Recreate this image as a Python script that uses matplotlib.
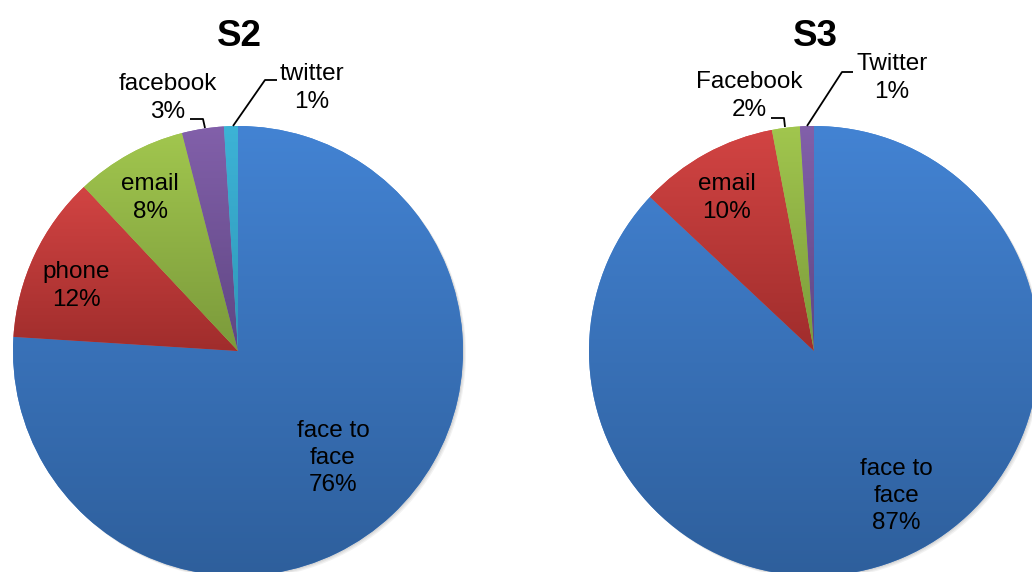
import textwrap
import numpy as np
import matplotlib
matplotlib.use("Agg")
import matplotlib.pyplot as plt
from matplotlib.patches import Circle
from matplotlib.colors import LinearSegmentedColormap

plt.rcParams['font.family'] = ['Liberation Sans', 'DejaVu Sans']

W, H = 1032, 572

# ---- data ----
s2_title = "S2"
s2_categories = ["face to face", "phone", "email", "facebook", "twitter"]
s2_values = [76, 12, 8, 3, 1]

s3_title = "S3"
s3_categories = ["face to face", "email", "Facebook", "Twitter"]
s3_values = [87, 10, 2, 1]

# gradient colours (top, bottom)
grad = {
    "blue":   ("#4383d3", "#2e5f9c"),
    "red":    ("#d24443", "#a02d2c"),
    "green":  ("#a1c64e", "#7b9a3b"),
    "purple": ("#8260aa", "#5f4683"),
    "cyan":   ("#3db3d6", "#2f97b8"),
}
s2_colors = ["blue", "red", "green", "purple", "cyan"]
s3_colors = ["blue", "red", "green", "purple"]

fig = plt.figure(figsize=(W / 100, H / 100), dpi=100)
ax = fig.add_axes([0, 0, 1, 1])


def py(y):
    return H - y


def draw_pie(values, colors, cx, cy, r):
    # soft shadow
    for k, a in [(3, 0.10), (2, 0.12), (1, 0.15)]:
        ax.add_patch(Circle((cx + k, py(cy) - k), r, facecolor="#808080",
                            edgecolor="none", alpha=a, zorder=0))
    wedges, _ = ax.pie(values, startangle=90, counterclock=False,
                       center=(cx, py(cy)), radius=r, frame=True,
                       colors=[grad[c][0] for c in colors],
                       wedgeprops=dict(linewidth=0))
    for w, c in zip(wedges, colors):
        ext = w.get_path().get_extents(w.get_transform() - ax.transData)
        cmap = LinearSegmentedColormap.from_list("g", [grad[c][1], grad[c][0]])
        g = np.linspace(0, 1, 256).reshape(-1, 1)
        im = ax.imshow(g, cmap=cmap, origin="lower", aspect="auto",
                       extent=(ext.x0, ext.x1, ext.y0, ext.y1), zorder=2,
                       interpolation="bilinear")
        im.set_clip_path(w)
    return wedges


draw_pie(s2_values, s2_colors, 238, 351, 225)
draw_pie(s3_values, s3_colors, 814, 351, 225)

fs = 17.5
ls = 1.32


def label(x, y, cat, val):
    txt = "\n".join(textwrap.wrap(cat, 7, break_long_words=False))
    ax.text(x, py(y), f"{txt}\n{val}%", ha="center", va="center",
            fontsize=fs, linespacing=ls, color="black", zorder=5)


# S2 labels
s2_pos = [(333, 458), (76, 286), (150, 198), (168, 98), (312, 88)]
for (x, y), c, v in zip(s2_pos, s2_categories, s2_values):
    label(x, y, c, v)
# S3 labels
s3_pos = [(896, 496), (727, 198), (749, 96), (892, 78)]
for (x, y), c, v in zip(s3_pos, s3_categories, s3_values):
    label(x, y, c, v)

# leader lines
leaders = [
    [(190, 119), (203, 119), (205, 128)],
    [(277, 80), (265, 80), (233, 126)],
    [(771, 118), (784, 118), (785, 127)],
    [(853, 72), (842, 72), (807, 126)],
]
for pts in leaders:
    xs = [p[0] for p in pts]
    ys = [py(p[1]) for p in pts]
    ax.plot(xs, ys, color="black", lw=1.3, zorder=6, solid_capstyle="butt")

# titles
ax.text(239, py(37), s2_title, ha="center", va="center", fontsize=26.5,
        fontweight="bold")
ax.text(815, py(37), s3_title, ha="center", va="center", fontsize=26.5,
        fontweight="bold")

ax.set_xlim(0, W)
ax.set_ylim(0, H)
ax.set_aspect("equal")
ax.axis("off")

fig.savefig("out.png", dpi=100)
